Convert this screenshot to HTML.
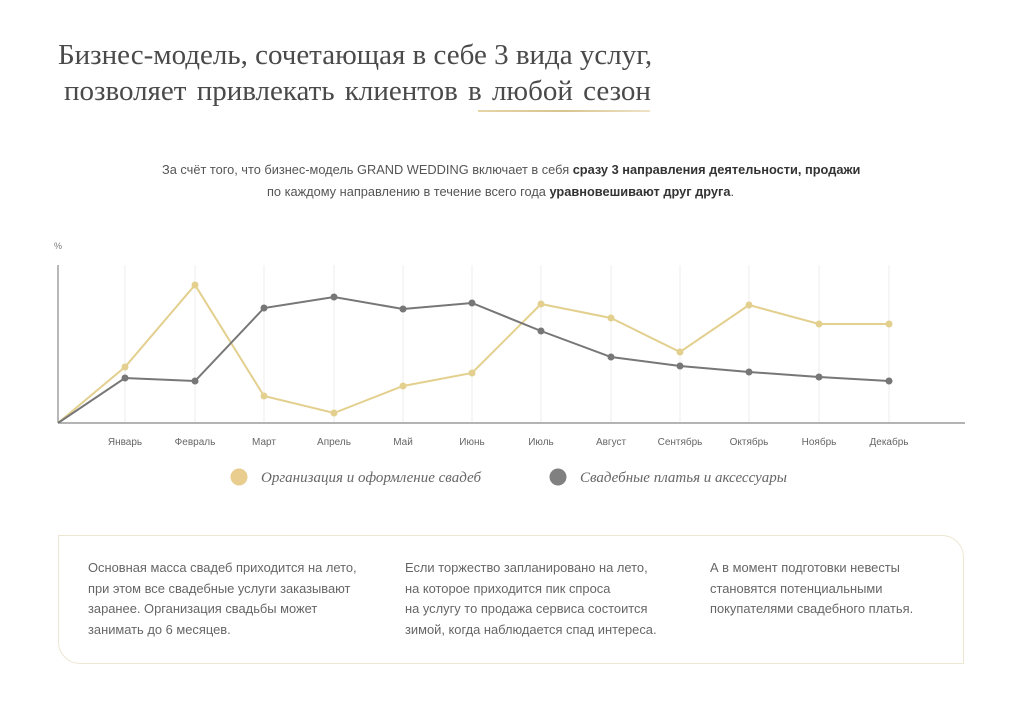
<!DOCTYPE html>
<html><head><meta charset="utf-8"><style>
html,body{margin:0;padding:0;background:#fff;width:1024px;height:724px;overflow:hidden;position:relative;font-family:"Liberation Sans","DejaVu Sans",sans-serif;}
.t{position:absolute;white-space:nowrap;}
.title{font-family:"Liberation Serif","DejaVu Serif",serif;font-size:29px;color:#4a4a4a;}
.sub{font-size:12.8px;color:#555;}
.box{position:absolute;left:58px;top:535px;width:906px;height:129px;border:1.5px solid #ece6d2;border-radius:0 22px 0 22px;box-sizing:border-box;}
.bt{font-size:12.9px;color:#666;line-height:20.7px;position:absolute;top:558px;}
</style></head><body>
<div class="t title" style="left:58px;top:39px;">Бизнес-модель, сочетающая в себе 3 вида услуг,</div>
<div class="t title" style="left:64px;top:75px;word-spacing:3px;">позволяет привлекать клиентов в любой сезон</div>
<div style="position:absolute;left:478px;top:110px;width:172px;height:2px;background:linear-gradient(90deg,#e5d4a6,#d8c48f 50%,#eee3c6);"></div>
<div class="t sub" style="left:162px;top:162px;">За счёт того, что бизнес-модель GRAND WEDDING включает в себя <b style="color:#333">сразу 3 направления деятельности, продажи</b></div>
<div class="t sub" style="left:267px;top:184px;">по каждому направлению в течение всего года <b style="color:#333">уравновешивают друг друга</b>.</div>
<svg width="1024" height="724" style="position:absolute;left:0;top:0">
<text x="54" y="249" font-size="9" fill="#777" font-family="Liberation Sans">%</text>
<g stroke="#eeeeee" stroke-width="1">
<line x1="125" y1="265" x2="125" y2="423"/><line x1="195" y1="265" x2="195" y2="423"/><line x1="264" y1="265" x2="264" y2="423"/><line x1="334" y1="265" x2="334" y2="423"/><line x1="403" y1="265" x2="403" y2="423"/><line x1="472" y1="265" x2="472" y2="423"/><line x1="541" y1="265" x2="541" y2="423"/><line x1="611" y1="265" x2="611" y2="423"/><line x1="680" y1="265" x2="680" y2="423"/><line x1="749" y1="265" x2="749" y2="423"/><line x1="819" y1="265" x2="819" y2="423"/><line x1="889" y1="265" x2="889" y2="423"/>
</g>
<line x1="58" y1="265" x2="58" y2="423" stroke="#888" stroke-width="1.2"/>
<line x1="58" y1="423" x2="965" y2="423" stroke="#888" stroke-width="1.2"/>
<polyline fill="none" stroke="#e3cf8e" stroke-width="2" points="58,423 125,367 195,285 264,396 334,413 403,386 472,373 541,304 611,318 680,352 749,305 819,324 889,324"/>
<polyline fill="none" stroke="#777" stroke-width="2" points="58,423 125,378 195,381 264,308 334,297 403,309 472,303 541,331 611,357 680,366 749,372 819,377 889,381"/>
<g fill="#e3cf8e"><circle cx="125" cy="367" r="3.5"/><circle cx="195" cy="285" r="3.5"/><circle cx="264" cy="396" r="3.5"/><circle cx="334" cy="413" r="3.5"/><circle cx="403" cy="386" r="3.5"/><circle cx="472" cy="373" r="3.5"/><circle cx="541" cy="304" r="3.5"/><circle cx="611" cy="318" r="3.5"/><circle cx="680" cy="352" r="3.5"/><circle cx="749" cy="305" r="3.5"/><circle cx="819" cy="324" r="3.5"/><circle cx="889" cy="324" r="3.5"/></g>
<g fill="#777"><circle cx="125" cy="378" r="3.5"/><circle cx="195" cy="381" r="3.5"/><circle cx="264" cy="308" r="3.5"/><circle cx="334" cy="297" r="3.5"/><circle cx="403" cy="309" r="3.5"/><circle cx="472" cy="303" r="3.5"/><circle cx="541" cy="331" r="3.5"/><circle cx="611" cy="357" r="3.5"/><circle cx="680" cy="366" r="3.5"/><circle cx="749" cy="372" r="3.5"/><circle cx="819" cy="377" r="3.5"/><circle cx="889" cy="381" r="3.5"/></g>
<g font-size="10" fill="#666" font-family="Liberation Sans" text-anchor="middle">
<text x="125" y="445">Январь</text><text x="195" y="445">Февраль</text><text x="264" y="445">Март</text><text x="334" y="445">Апрель</text><text x="403" y="445">Май</text><text x="472" y="445">Июнь</text><text x="541" y="445">Июль</text><text x="611" y="445">Август</text><text x="680" y="445">Сентябрь</text><text x="749" y="445">Октябрь</text><text x="819" y="445">Ноябрь</text><text x="889" y="445">Декабрь</text>
</g>
<circle cx="239" cy="477" r="8.5" fill="#e8cd8e"/>
<text x="261" y="482" font-size="15" fill="#666" font-style="italic" font-family="Liberation Serif">Организация и оформление свадеб</text>
<circle cx="558" cy="477" r="8.5" fill="#808080"/>
<text x="580" y="482" font-size="15" fill="#666" font-style="italic" font-family="Liberation Serif">Свадебные платья и аксессуары</text>
</svg>
<div class="box"></div>
<div class="bt" style="left:88px;">Основная масса свадеб приходится на лето,<br>при этом все свадебные услуги заказывают<br>заранее. Организация свадьбы может<br>занимать до 6 месяцев.</div>
<div class="bt" style="left:405px;">Если торжество запланировано на лето,<br>на которое приходится пик спроса<br>на услугу то продажа сервиса состоится<br>зимой, когда наблюдается спад интереса.</div>
<div class="bt" style="left:710px;">А в момент подготовки невесты<br>становятся потенциальными<br>покупателями свадебного платья.</div>
</body></html>
